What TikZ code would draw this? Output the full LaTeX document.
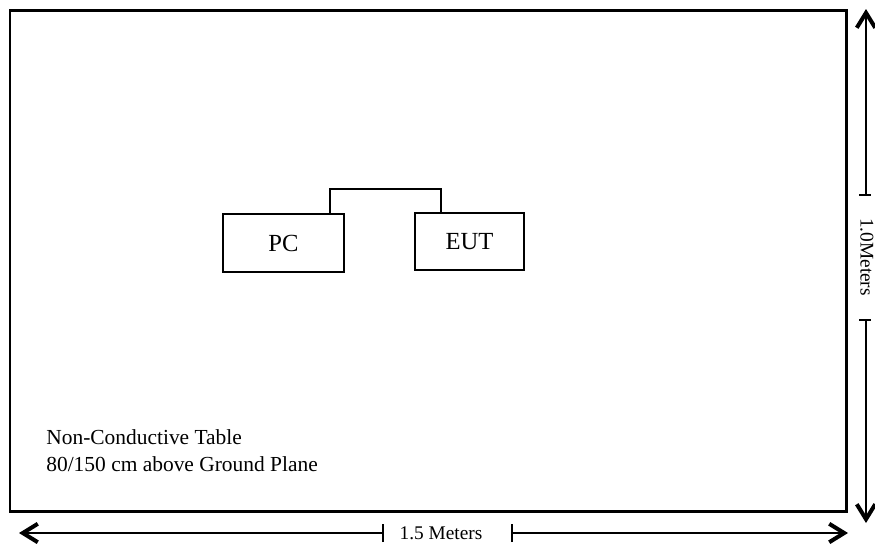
\documentclass[tikz,border=0pt]{standalone}
\usepackage{fontspec}
\setmainfont{Liberation Serif}
\usetikzlibrary{arrows.meta}

\tikzset{
  devbox/.style={draw, rectangle, line width=0.7pt, inner sep=0pt, font=\fontsize{14}{16}\selectfont},
  dimline/.style={line width=0.6pt},
  dimtip/.style={dimline, -{Straight Barb[length=8.5pt, width=10.5pt, line width=2.3pt]}},
  dimlabel/.style={inner sep=0pt, font=\fontsize{11}{13}\selectfont}
}

\begin{document}
\begin{tikzpicture}[x=0.02cm, y=-0.02cm]
            \useasboundingbox (0,0) rectangle (875,549);

            % Table
            \draw[line width=1.7pt] (10,10) rectangle (846,511);
            \node[anchor=west, align=left, inner sep=0pt, font=\fontsize{12.2}{15.4}\selectfont] (table) at (46,451)
              {Non-Conductive Table\\80/150 cm above Ground Plane};

            % Devices
            \node[devbox, minimum width=121*0.02cm, minimum height=58*0.02cm] (pc) at (283.5,243) {PC};
            \node[devbox, minimum width=109*0.02cm, minimum height=57*0.02cm] (eut) at (469.5,241.5) {EUT};

            % Cable
            \coordinate (cabA) at (330,189);
            \coordinate (cabB) at (441,189);
            \draw[line width=0.7pt] (pc.north -| cabA) -- (cabA) -- (cabB) -- (eut.north -| cabB);

            % 1.5 Meters
            \node[dimlabel] (wlabel) at (441,533) {1.5 Meters};
            \coordinate (wtickL) at (383,533);
            \coordinate (wtickR) at (512,533);
            \coordinate (wendL) at (19,533);
            \coordinate (wendR) at (848,533);
            \draw[dimtip] (wtickL) -- (wendL);
            \draw[dimtip] (wtickR) -- (wendR);
            \draw[dimline] ([yshift=-9*0.02cm]wtickL) -- ([yshift=9*0.02cm]wtickL);
            \draw[dimline] ([yshift=-9*0.02cm]wtickR) -- ([yshift=9*0.02cm]wtickR);

            % 1.0 Meters
            \node[dimlabel, rotate=-90] (hlabel) at (867,257) {1.0Meters};
            \coordinate (htickT) at (866,195);
            \coordinate (htickB) at (866,320);
            \coordinate (hendT) at (866,9);
            \coordinate (hendB) at (866,523);
            \draw[dimtip] (htickT) -- (hendT);
            \draw[dimtip] (htickB) -- (hendB);
            \draw[dimline] ([xshift=-7*0.02cm]htickT) -- ([xshift=5*0.02cm]htickT);
            \draw[dimline] ([xshift=-7*0.02cm]htickB) -- ([xshift=5*0.02cm]htickB);
        \end{tikzpicture}
\end{document}
